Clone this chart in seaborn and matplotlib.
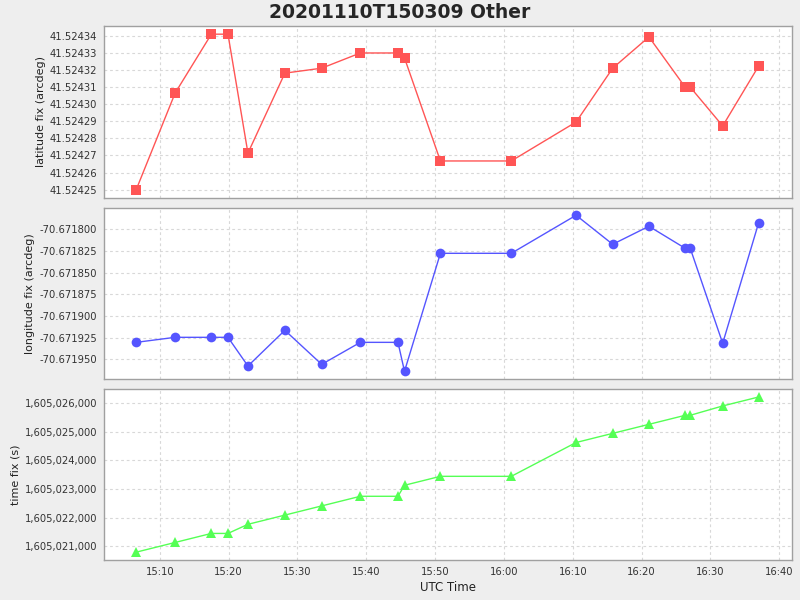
import matplotlib
matplotlib.use("Agg")
import matplotlib.pyplot as plt
import matplotlib.dates as mdates
import matplotlib.ticker as mticker
import seaborn as sns
import pandas as pd

# ---- data ----
utc_times = ["15:06:34", "15:12:13", "15:17:29", "15:19:54", "15:22:48", "15:28:10",
             "15:33:31", "15:39:08", "15:44:36", "15:45:33", "15:50:46", "16:01:04",
             "16:10:29", "16:15:48", "16:21:04", "16:26:20", "16:27:04", "16:31:47",
             "16:37:00"]
latitude = [41.5242500, 41.5243065, 41.5243410, 41.5243410, 41.5242714, 41.5243182,
            41.5243211, 41.5243300, 41.5243300, 41.5243271, 41.5242668, 41.5242668,
            41.5242896, 41.5243211, 41.5243394, 41.5243100, 41.5243100, 41.5242873,
            41.5243223]
longitude = [-70.6719304, -70.6719246, -70.6719246, -70.6719246, -70.6719577, -70.6719165,
             -70.6719558, -70.6719304, -70.6719304, -70.6719638, -70.6718277, -70.6718277,
             -70.6717838, -70.6718173, -70.6717965, -70.6718219, -70.6718219, -70.6719315,
             -70.6717927]
time_fix = [1605020794, 1605021133, 1605021449, 1605021449, 1605021768, 1605022090,
            1605022411, 1605022748, 1605022748, 1605023133, 1605023446, 1605023446,
            1605024629, 1605024948, 1605025264, 1605025580, 1605025580, 1605025907,
            1605026220]
title = "20201110T150309 Other"
date = "2020-11-10"

df = pd.DataFrame({
    "time": pd.to_datetime([f"{date} {t}" for t in utc_times]),
    "lat": latitude,
    "lon": longitude,
    "tfix": time_fix,
})

sns.set_style("white")
plt.rcParams["font.family"] = ["DejaVu Sans"]

fig = plt.figure(figsize=(8, 6), dpi=100, facecolor="#eeeeee")
left, width = 0.1304, 0.86
ax1 = fig.add_axes([left, 0.6705, width, 0.2862])
ax2 = fig.add_axes([left, 0.3683, width, 0.2845], sharex=ax1)
ax3 = fig.add_axes([left, 0.0662, width, 0.2850], sharex=ax1)

panels = [
    (ax1, "lat", "#ff5555", "s", 6.5, "latitude fix (arcdeg)"),
    (ax2, "lon", "#5555ff", "o", 7, "longitude fix (arcdeg)"),
    (ax3, "tfix", "#55ff55", "^", 7.5, "time fix (s)"),
]
for ax, col, color, mk, ms, lab in panels:
    sns.lineplot(data=df, x="time", y=col, ax=ax, color=color, marker=mk,
                 markersize=ms, markeredgewidth=0, linewidth=1.0,
                 estimator=None, sort=False)
    ax.set_facecolor("white")
    ax.grid(True, color="#d8d8d8", linestyle=(0, (2.5, 2.5)), linewidth=0.8)
    for s in ax.spines.values():
        s.set_color("#a0a0a0")
        s.set_linewidth(1.0)
    ax.tick_params(axis="both", colors="#808080", labelcolor="#333333",
                   labelsize=7.2, length=3, width=0.8, direction="out", pad=2)
    ax.set_ylabel(lab, fontsize=8, color="#222222", labelpad=3)
    ax.set_xlabel("")

ax1.set_ylim(41.5242453, 41.5243458)
ax1.yaxis.set_major_locator(mticker.MultipleLocator(1e-5))
ax1.yaxis.set_major_formatter(mticker.FuncFormatter(lambda v, p: f"{v:.5f}"))

ax2.set_ylim(-70.6719727, -70.6717758)
ax2.yaxis.set_major_locator(mticker.MultipleLocator(2.5e-5))
ax2.yaxis.set_major_formatter(mticker.FuncFormatter(lambda v, p: f"{v:.6f}"))

ax3.set_ylim(1605020510, 1605026490)
ax3.yaxis.set_major_locator(mticker.MultipleLocator(1000))
ax3.yaxis.set_major_formatter(mticker.FuncFormatter(lambda v, p: f"{v:,.0f}"))

ax3.set_xlim(pd.Timestamp(f"{date} 15:01:56"), pd.Timestamp(f"{date} 16:41:54"))
ax3.xaxis.set_major_locator(mdates.MinuteLocator(byminute=range(0, 60, 10)))
ax3.xaxis.set_major_formatter(mdates.DateFormatter("%H:%M"))
ax3.set_xlabel("UTC Time", fontsize=8.5, color="#222222", labelpad=3)
for ax in (ax1, ax2):
    ax.tick_params(axis="x", which="both", bottom=False, labelbottom=False)

fig.suptitle(title, fontsize=13.5, fontweight="bold", y=0.995, x=0.5)
fig.savefig("out.png", dpi=100, facecolor=fig.get_facecolor())
